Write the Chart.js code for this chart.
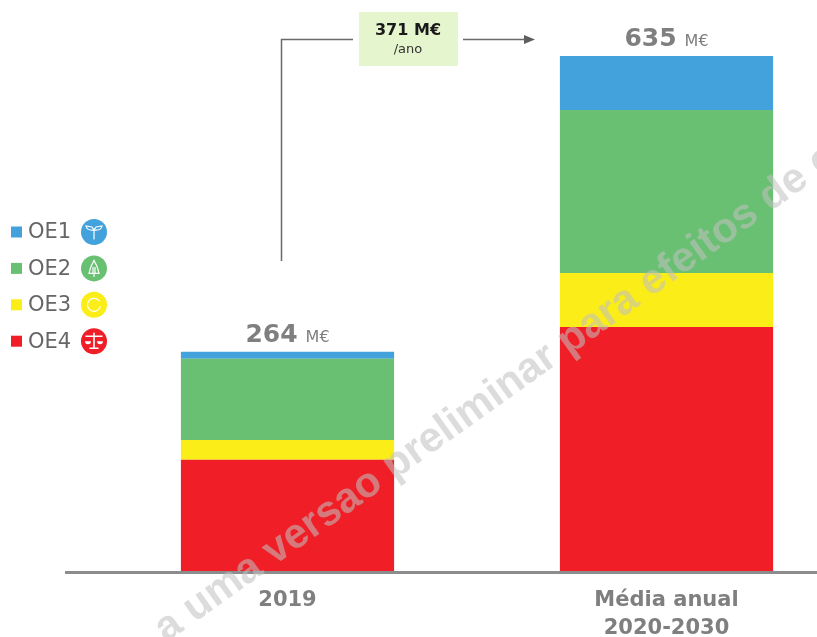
<!DOCTYPE html>
<html><head><meta charset="utf-8">
<style>html,body{margin:0;padding:0;background:#fff;overflow:hidden;width:817px;height:637px}#w{width:817px;height:637px;overflow:hidden}canvas{display:block}</style>
<script src="https://cdn.jsdelivr.net/npm/chart.js@4"></script>
</head><body><div id="w"><canvas id="c" width="857" height="637" style="width:857px;height:637px"></canvas></div>
<script>
const categories = ['2019', ['Média anual', '2020-2030']];
const totals = [264, 635];
const oe4 = [138, 301.5];
const oe3 = [24.5, 66.5];
const oe2 = [100, 200.5];
const oe1 = [8.5, 66.5];
const legendLabels = ['OE1', 'OE2', 'OE3', 'OE4'];
const colors = {OE1:'#43a1dc', OE2:'#69c072', OE3:'#fbed17', OE4:'#f01f27'};
const unit = 'M€';
const deltaValue = '371 M€';
const deltaUnit = '/ano';
const watermarkBefore = 'a uma versao ';
const watermarkAnchor = 'preliminar';
const watermarkAfter = ' para efeitos de c';

const grey = '#7f7f7f', bold = '"DejaVu Sans"';

function icon(ctx, name, x, y) {
  ctx.save();
  ctx.fillStyle = colors[name];
  ctx.beginPath(); ctx.arc(x, y, 13, 0, Math.PI * 2); ctx.fill();
  ctx.strokeStyle = '#fff'; ctx.fillStyle = '#fff'; ctx.lineWidth = 1.2; ctx.lineCap = 'round';
  ctx.beginPath();
  if (name === 'OE1') {
    ctx.moveTo(x, y + 7); ctx.lineTo(x, y - 3);
    ctx.moveTo(x, y - 2); ctx.quadraticCurveTo(x - 7, y - 1, x - 8, y - 6); ctx.lineTo(x - 2, y - 5); ctx.lineTo(x, y - 2);
    ctx.moveTo(x, y - 2); ctx.quadraticCurveTo(x + 7, y - 1, x + 8, y - 6); ctx.lineTo(x + 2, y - 5); ctx.lineTo(x, y - 2);
    ctx.stroke();
  } else if (name === 'OE2') {
    ctx.moveTo(x, y - 8); ctx.lineTo(x - 3, y - 2); ctx.lineTo(x - 5, y + 5); ctx.lineTo(x + 5, y + 5); ctx.lineTo(x + 3, y - 2); ctx.closePath();
    ctx.moveTo(x - 1, y - 1); ctx.lineTo(x - 1, y + 4); ctx.moveTo(x + 1, y - 1); ctx.lineTo(x + 1, y + 4);
    ctx.moveTo(x, y + 5); ctx.lineTo(x, y + 8);
    ctx.stroke();
  } else if (name === 'OE3') {
    ctx.arc(x, y, 6.5, 0.3, Math.PI * 1.8); ctx.stroke();
  } else {
    ctx.lineWidth = 1.6;
    ctx.moveTo(x, y - 8); ctx.lineTo(x, y + 6); ctx.moveTo(x - 4, y + 7); ctx.lineTo(x + 4, y + 7);
    ctx.moveTo(x - 8, y - 5); ctx.lineTo(x + 8, y - 5);
    ctx.stroke();
    ctx.beginPath(); ctx.arc(x - 6, y, 3, 0, Math.PI); ctx.arc(x + 6, y, 3, 0, Math.PI); ctx.fill();
  }
  ctx.restore();
}

const decorations = {
  id: 'decorations',
  afterDatasetsDraw(chart) {
    const ctx = chart.ctx, a = chart.chartArea;
    ctx.save();
    // baseline
    ctx.strokeStyle = '#8c8c8c'; ctx.lineWidth = 3;
    ctx.beginPath(); ctx.moveTo(65, a.bottom + 0.5); ctx.lineTo(817, a.bottom + 0.5); ctx.stroke();

    // totals above the bars
    const top = chart.getDatasetMeta(3).data;
    top.forEach((bar, i) => {
      const big = String(totals[i]);
      ctx.textBaseline = 'alphabetic'; ctx.textAlign = 'left';
      ctx.font = 'bold 25px ' + bold; const w1 = ctx.measureText(big).width;
      ctx.font = '16px ' + bold; const w2 = ctx.measureText(unit).width;
      const sx = bar.x - (w1 + 8 + w2) / 2, by = bar.y - 10;
      ctx.fillStyle = grey;
      ctx.font = 'bold 25px ' + bold; ctx.fillText(big, sx, by);
      ctx.font = '16px ' + bold; ctx.fillText(unit, sx + w1 + 8, by);
    });

    // growth connector
    ctx.strokeStyle = '#6a6a6a'; ctx.fillStyle = '#5f5f5f'; ctx.lineWidth = 1.5;
    ctx.beginPath(); ctx.moveTo(281.5, 261); ctx.lineTo(281.5, 39.5); ctx.lineTo(353, 39.5); ctx.stroke();
    ctx.beginPath(); ctx.moveTo(463, 39.5); ctx.lineTo(526, 39.5); ctx.stroke();
    ctx.beginPath(); ctx.moveTo(535, 39.5); ctx.lineTo(524, 35); ctx.lineTo(524, 44); ctx.closePath(); ctx.fill();
    ctx.fillStyle = '#e5f5cd'; ctx.fillRect(359, 12, 99, 54);
    ctx.fillStyle = '#1a1a1a'; ctx.textAlign = 'center';
    ctx.font = 'bold 16px ' + bold; ctx.fillText(deltaValue, 408, 35);
    ctx.fillStyle = '#333'; ctx.font = '13px ' + bold; ctx.fillText(deltaUnit, 408, 53);

    // legend
    ctx.textAlign = 'left'; ctx.textBaseline = 'middle';
    legendLabels.forEach((name, i) => {
      const y = 232 + i * 36.4;
      ctx.fillStyle = colors[name]; ctx.fillRect(11, y - 5.5, 11, 11);
      ctx.fillStyle = '#666'; ctx.font = '21px ' + bold; ctx.fillText(name, 28, y + 1);
      icon(ctx, name, 94, y);
    });

    // watermark, centred on its middle word
    ctx.translate(470, 412); ctx.rotate(-35.5 * Math.PI / 180);
    ctx.textAlign = 'left'; ctx.textBaseline = 'middle';
    ctx.fillStyle = 'rgba(192,192,192,0.56)';
    ctx.font = 'bold 42px "Liberation Sans"';
    const off = ctx.measureText(watermarkBefore).width + ctx.measureText(watermarkAnchor).width / 2;
    ctx.fillText(watermarkBefore + watermarkAnchor + watermarkAfter, -off, 0);
    ctx.restore();
  }
};

new Chart(document.getElementById('c'), {
  type: 'bar',
  data: {
    labels: categories,
    datasets: [
      {label: 'OE4', data: oe4, backgroundColor: colors.OE4},
      {label: 'OE3', data: oe3, backgroundColor: colors.OE3},
      {label: 'OE2', data: oe2, backgroundColor: colors.OE2},
      {label: 'OE1', data: oe1, backgroundColor: colors.OE1}
    ]
  },
  options: {
    responsive: false, animation: false, devicePixelRatio: 1,
    layout: {padding: {left: 98, right: 1, top: 56, bottom: 0}},
    datasets: {bar: {categoryPercentage: 1, barPercentage: 0.5625, borderWidth: 0}},
    plugins: {legend: {display: false}, tooltip: {enabled: false}},
    scales: {
      x: {
        stacked: true,
        grid: {display: false, drawTicks: false}, border: {display: false},
        afterFit(s) { s.height = 65; },
        ticks: {color: grey, padding: 15, maxRotation: 0, autoSkip: false,
          font: {family: 'DejaVu Sans', weight: 'bold', size: 21, lineHeight: 1.32}}
      },
      y: {stacked: true, display: false, min: 0, max: 635}
    }
  },
  plugins: [decorations]
});
</script></body></html>
